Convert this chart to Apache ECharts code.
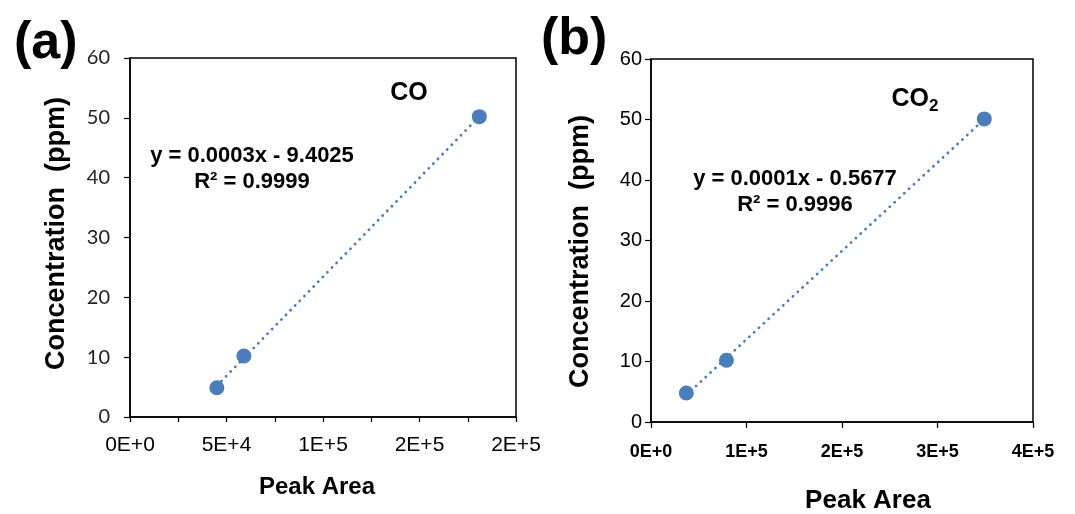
<!DOCTYPE html>
<html>
<head>
<meta charset="utf-8">
<script src="https://cdn.jsdelivr.net/npm/echarts@6/dist/echarts.min.js"></script>
<style>
  html, body { margin: 0; padding: 0; background: #fff; }
  #main { width: 1075px; height: 514px; }
</style>
</head>
<body>
<div id="main"></div>
<script>
// CO calibration (panel a)
var coArea = [45000, 59000, 181000];
var coConc = [4.9, 10.2, 50.2];
// CO2 calibration (panel b)
var co2Area = [37000, 79000, 349000];
var co2Conc = [4.8, 10.2, 50.1];

var blue = '#4a7ebb';

// least squares trend line, drawn across the data range like Excel does
function trend(xs, ys) {
  var n = xs.length, sx = 0, sy = 0, sxx = 0, sxy = 0;
  for (var i = 0; i < n; i++) { sx += xs[i]; sy += ys[i]; sxx += xs[i] * xs[i]; sxy += xs[i] * ys[i]; }
  var b = (n * sxy - sx * sy) / (n * sxx - sx * sx);
  var a = (sy - b * sx) / n;
  var x0 = Math.min.apply(null, xs), x1 = Math.max.apply(null, xs);
  return [[x0, a + b * x0], [x1, a + b * x1]];
}

function sci(v) {
  return v.toExponential(0).toUpperCase();
}

var chartDom = document.getElementById('main');
var myChart = echarts.init(chartDom);
var option;

var axisLine = { lineStyle: { color: '#000', width: 1.5 } };
var ticks = { length: 6, lineStyle: { color: '#000', width: 1.2 } };

option = {
  animation: false,
  title: [
    { text: '(a)', left: 9, top: 13, textStyle: { fontFamily: 'Liberation Sans', fontWeight: 'bold', fontSize: 52, color: '#000' } },
    { text: '(b)', left: 536, top: 9, textStyle: { fontFamily: 'Liberation Sans', fontWeight: 'bold', fontSize: 52, color: '#000' } }
  ],
  grid: [
    { left: 130, top: 58, width: 386, height: 359, show: true, borderColor: '#000', borderWidth: 1.5, outerBoundsMode: 'none', containLabel: false },
    { left: 651, top: 59, width: 382, height: 363, show: true, borderColor: '#000', borderWidth: 1.5, outerBoundsMode: 'none', containLabel: false }
  ],
  xAxis: [
    {
      gridIndex: 0, type: 'value', min: 0, max: 200000, interval: 25000,
      name: 'Peak Area', nameLocation: 'middle', nameGap: 58,
      nameTextStyle: { fontFamily: 'Liberation Sans', fontWeight: 'bold', fontSize: 24, color: '#000', padding: [0, 12, 0, 0] },
      axisLine: axisLine, axisTick: { length: 5, lineStyle: { color: '#000', width: 1.2 } },
      splitLine: { show: false },
      axisLabel: {
        margin: 18, fontFamily: 'Liberation Sans', fontSize: 21, color: '#000',
        formatter: function (v) { return v % 50000 === 0 ? sci(v) : ''; }
      }
    },
    {
      gridIndex: 1, type: 'value', min: 0, max: 400000, interval: 100000,
      name: 'Peak Area', nameLocation: 'middle', nameGap: 66,
      nameTextStyle: { fontFamily: 'Liberation Sans', fontWeight: 'bold', fontSize: 26, color: '#000', padding: [0, 0, 0, 52] },
      axisLine: axisLine, axisTick: { length: 6, lineStyle: { color: '#000', width: 1.2 } },
      splitLine: { show: false },
      axisLabel: {
        margin: 21, fontFamily: 'Liberation Sans', fontWeight: 'bold', fontSize: 18, color: '#000',
        formatter: sci
      }
    }
  ],
  yAxis: [
    {
      gridIndex: 0, type: 'value', min: 0, max: 60, interval: 10,
      name: 'Concentration  (ppm)', nameLocation: 'middle', nameGap: 60, nameRotate: 90,
      nameTextStyle: { fontFamily: 'Liberation Sans', fontWeight: 'bold', fontSize: 27, color: '#000', padding: [0, 0, 0, 8] },
      axisLine: axisLine, axisTick: ticks, splitLine: { show: false },
      axisLabel: { margin: 20, fontFamily: 'Lato', fontSize: 20, color: '#222' }
    },
    {
      gridIndex: 1, type: 'value', min: 0, max: 60, interval: 10,
      name: 'Concentration  (ppm)', nameLocation: 'middle', nameGap: 57, nameRotate: 90,
      nameTextStyle: { fontFamily: 'Liberation Sans', fontWeight: 'bold', fontSize: 27, color: '#000', padding: [0, 22, 0, 0] },
      axisLine: axisLine, axisTick: ticks, splitLine: { show: false },
      axisLabel: { margin: 9, fontFamily: 'Liberation Sans', fontSize: 20, color: '#000' }
    }
  ],
  series: [
    {
      type: 'line', xAxisIndex: 0, yAxisIndex: 0, data: trend(coArea, coConc),
      symbol: 'none', lineStyle: { color: blue, width: 2.8, type: [0.1, 6.5], cap: 'round' }, z: 1
    },
    {
      type: 'scatter', xAxisIndex: 0, yAxisIndex: 0, symbolSize: 15,
      data: coArea.map(function (x, i) { return [x, coConc[i]]; }),
      itemStyle: { color: blue, opacity: 1 }, z: 2
    },
    {
      type: 'line', xAxisIndex: 1, yAxisIndex: 1, data: trend(co2Area, co2Conc),
      symbol: 'none', lineStyle: { color: blue, width: 2.8, type: [0.1, 6.5], cap: 'round' }, z: 1
    },
    {
      type: 'scatter', xAxisIndex: 1, yAxisIndex: 1, symbolSize: 15,
      data: co2Area.map(function (x, i) { return [x, co2Conc[i]]; }),
      itemStyle: { color: blue, opacity: 1 }, z: 2
    }
  ],
  graphic: [
    { type: 'text', x: 409, y: 93, style: { text: 'CO', font: 'bold 25px "Liberation Sans"', fill: '#000', align: 'center', verticalAlign: 'middle' } },
    { type: 'text', x: 252, y: 156, style: { text: 'y = 0.0003x - 9.4025', font: 'bold 22px "Liberation Sans"', fill: '#000', align: 'center', verticalAlign: 'middle' } },
    { type: 'text', x: 252, y: 182, style: { text: 'R² = 0.9999', font: 'bold 22px "Liberation Sans"', fill: '#000', align: 'center', verticalAlign: 'middle' } },
    {
      type: 'text', x: 915, y: 99,
      style: {
        text: '{m|CO}{s|2}', align: 'center', verticalAlign: 'middle',
        rich: {
          m: { font: 'bold 25px "Liberation Sans"', fill: '#000' },
          s: { font: 'bold 17px "Liberation Sans"', fill: '#000', padding: [14, 0, 0, 0] }
        }
      }
    },
    { type: 'text', x: 795, y: 179, style: { text: 'y = 0.0001x - 0.5677', font: 'bold 22px "Liberation Sans"', fill: '#000', align: 'center', verticalAlign: 'middle' } },
    { type: 'text', x: 795, y: 205, style: { text: 'R² = 0.9996', font: 'bold 22px "Liberation Sans"', fill: '#000', align: 'center', verticalAlign: 'middle' } }
  ]
};

myChart.setOption(option);
</script>
</body>
</html>
